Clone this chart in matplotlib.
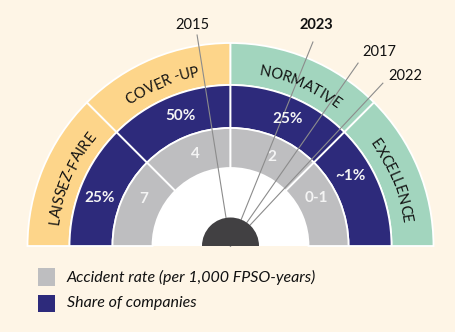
import matplotlib.pyplot as plt
from matplotlib.patches import Wedge, Rectangle
from matplotlib.font_manager import FontProperties
import numpy as np

# =========================
# DATA
# =========================
stages = ['LAISSEZ-FAIRE', 'COVER -UP', 'NORMATIVE', 'EXCELLENCE']
company_share = ['25%', '50%', '25%', '~1%']
accident_rate = ['7', '4', '2', '0-1']
years = ['2015', '2023', '2017', '2022']
year_angles = [99.0, 68.0, 55.1, 46.9]   # position of each year on the gauge (deg)
legend_labels = ['Accident rate (per 1,000 FPSO-years)', 'Share of companies']

# =========================
# STYLE / LAYOUT
# =========================
bg = '#FEF5E6'
yellow = '#FDD58A'
green = '#A2D5BE'
navy = '#2D2A7B'
grey = '#BEBEC0'
dark = '#414042'
stage_colors = [yellow, yellow, green, green]
font = 'Lato'

cx, cy = 230.5, 86          # gauge centre (pixels, y up)
r_outer, r_navy, r_grey, r_white, r_hub = 203, 161, 118, 78, 28.5

stage_text_angles = [157, 113, 66.5, 22]
share_angles = [160, 111, 65.6, 30.4]
rate_angles = [151.7, 111, 65.2, 29]
year_line_len = [213.6, 220, 223, 223]
year_label_offset = [(-5, 3, 'center', 'bottom'), (3, 10, 'center', 'bottom'),
                     (4, 11, 'left', 'center'), (5, 7, 'left', 'center')]

fig = plt.figure(figsize=(4.55, 3.32), dpi=100)
fig.patch.set_facecolor(bg)
ax = fig.add_axes([0, 0, 1, 1])
ax.set_xlim(0, 455)
ax.set_ylim(0, 332)
ax.axis('off')

# =========================
# RINGS
# =========================
for i in range(4):
    t2 = 180 - 45 * i
    t1 = t2 - 45
    ax.add_patch(Wedge((cx, cy), r_outer, t1, t2, width=r_outer - r_navy,
                       facecolor=stage_colors[i], edgecolor='white', lw=1.3))
    ax.add_patch(Wedge((cx, cy), r_navy, t1, t2, width=r_navy - r_grey,
                       facecolor=navy, edgecolor='white', lw=1.3))
    ax.add_patch(Wedge((cx, cy), r_grey, t1, t2, width=r_grey - r_white,
                       facecolor=grey, edgecolor='white', lw=1.3))
ax.add_patch(Wedge((cx, cy), r_white, 0, 180, facecolor='white', edgecolor='none'))

# values
for lab, a in zip(company_share, share_angles):
    t = np.radians(a)
    ax.text(cx + 139 * np.cos(t), cy + 139 * np.sin(t), lab, color='#F4F4F4',
            fontsize=11, fontweight='bold', family=font, ha='center', va='center')
for lab, a in zip(accident_rate, rate_angles):
    t = np.radians(a)
    ax.text(cx + 98.5 * np.cos(t), cy + 98.5 * np.sin(t), lab, color='#F4F4F4',
            fontsize=11, fontweight='bold', family=font, ha='center', va='center')

# curved stage names
renderer = fig.canvas.get_renderer()
fp = FontProperties(family=font, size=10.5)
r_txt = 177
for name, a in zip(stages, stage_text_angles):
    widths = [renderer.get_text_width_height_descent(ch, fp, ismath=False)[0] for ch in name]
    total = sum(widths)
    start = np.radians(a) + total / r_txt / 2
    pos = 0
    for ch, w in zip(name, widths):
        t = start - (pos + w / 2) / r_txt
        ax.text(cx + r_txt * np.cos(t), cy + r_txt * np.sin(t), ch,
                fontproperties=fp, rotation=np.degrees(t) - 90,
                rotation_mode='anchor', ha='center', va='center', color='#111111')
        pos += w

# year pointers
for yr, a, L, (ox, oy, ha, va) in zip(years, year_angles, year_line_len, year_label_offset):
    t = np.radians(a)
    ex, ey = cx + L * np.cos(t), cy + L * np.sin(t)
    ax.plot([cx, ex], [cy, ey], color='#8C8C8C', lw=0.8)
    ax.text(ex + ox, ey + oy, yr, fontsize=10.5, family=font, ha=ha, va=va,
            fontweight='bold' if yr == '2023' else 'normal', color='#111111')

ax.add_patch(Wedge((cx, cy), r_hub, 0, 180, facecolor=dark, edgecolor='none', zorder=5))

# =========================
# LEGEND
# =========================
ax.add_patch(Rectangle((38, 332 - 286), 17, 18, facecolor=grey, edgecolor='none'))
ax.add_patch(Rectangle((38, 332 - 312), 17, 17, facecolor=navy, edgecolor='none'))
ax.text(67, 332 - 277, legend_labels[0], fontsize=11.5, style='italic', family=font,
        va='center', color='#111111')
ax.text(67, 332 - 303.5, legend_labels[1], fontsize=11.5, style='italic', family=font,
        va='center', color='#111111')

fig.savefig('out.png', dpi=100, facecolor=bg)
